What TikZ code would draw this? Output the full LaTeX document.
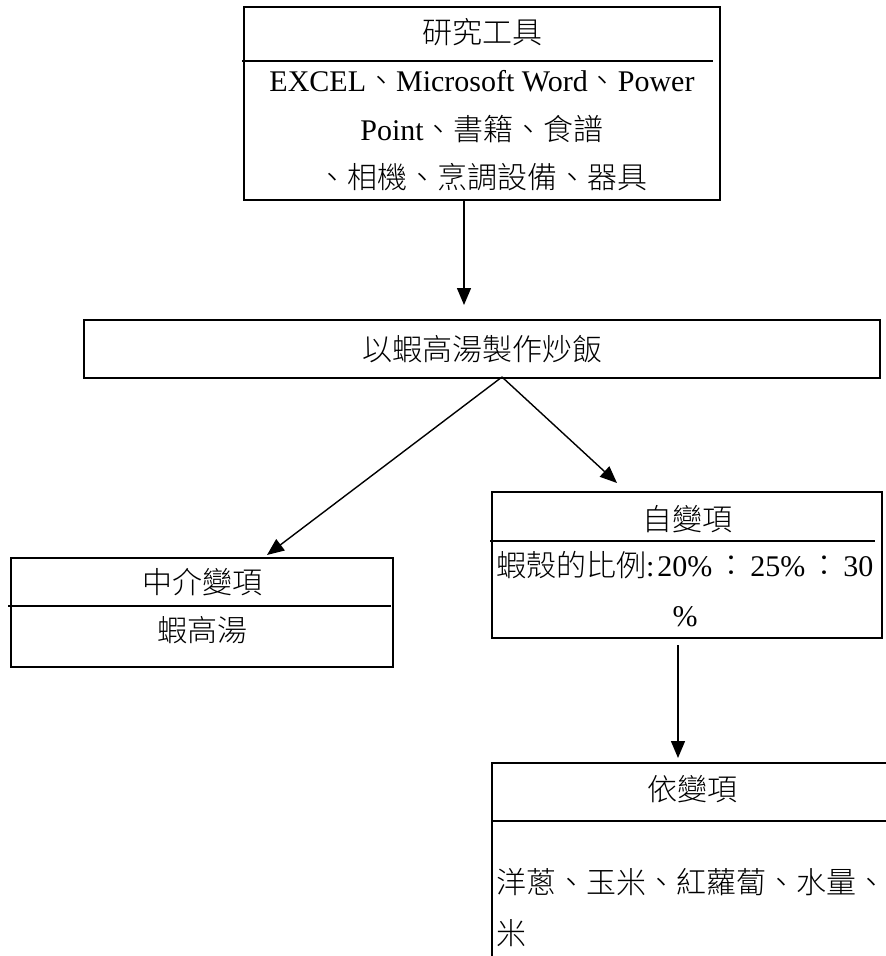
\documentclass[tikz,border=0pt]{standalone}
\usepackage{fontspec}
\setmainfont{Liberation Serif}
\newfontfamily\cjk{Noto Sans CJK TC}[UprightFont={* Light}]
\usetikzlibrary{arrows.meta}
\tikzset{
  x=1pt, y=-1pt,
  boxnode/.style={draw=black, line width=2pt, rectangle, inner sep=0pt, outer sep=0pt, fill=none},
  divider/.style={draw=black, line width=1.5pt},
  arr/.style={draw=black, line width=1.4pt, -{Triangle[length=17pt,width=14pt]}},
  txt/.style={inner sep=0pt, outer sep=0pt, font=\fontsize{30}{36}\selectfont, anchor=base},
  txtl/.style={txt, anchor=base west},
}
\begin{document}
\begin{tikzpicture}
\useasboundingbox (0,0) rectangle (886,956);
\fill[white] (0,0) rectangle (886,956);
\clip (0,0) rectangle (886,956);

% boxes
\node[boxnode, minimum width=476pt, minimum height=193pt] (topbox) at (482,103.5) {};
\node[boxnode, minimum width=796pt, minimum height=58pt] (midbox) at (482,349) {};
\node[boxnode, minimum width=382pt, minimum height=109pt] (leftbox) at (202,612.5) {};
\node[boxnode, minimum width=390pt, minimum height=146pt] (rightbox) at (687,565) {};
\node[boxnode, minimum width=420pt, minimum height=240pt] (botbox) at (702,883) {};

% dividers
\draw[divider] (242,61) -- (713,61);
\draw[divider] (8,606) -- (391,606);
\draw[divider] (490,541) -- (875,541);
\draw[divider] (492,821) -- (886,821);

% texts
\node[txt] (t1) at (482,43) {\cjk 研究工具};
\node[txt] (t2) at (482,91) {EXCEL{\cjk 、}Microsoft Word{\cjk 、}Power};
\node[txt] (t3) at (482,140) {Point{\cjk 、書籍、食譜}};
\node[txt] (t4) at (482,188) {\cjk 、相機、烹調設備、器具};

\node[txt] (m1) at (482,360) {\cjk 以蝦高湯製作炒飯};

\node[txt] (l1) at (202,593) {\cjk 中介變項};
\node[txt] (l2) at (202,641) {\cjk 蝦高湯};

\node[txt] (r1) at (687,530) {\cjk 自變項};
\node[txtl] (r2) at (496,576) {{\cjk 蝦殼的比例}:\hspace{3pt}20\%\hspace{4pt}{\cjk ：}\hspace{4pt}25\%\hspace{4pt}{\cjk ：}\hspace{4pt}30};
\node[txt] (r3) at (685,626) {\%};

\node[txt] (b1) at (692,800) {\cjk 依變項};
\node[txtl] (b2) at (496,893) {\cjk 洋蔥、玉米、紅蘿蔔、水量、};
\node[txtl] (b3) at (496,944) {\cjk 米};

% connector end points
\coordinate (c1s) at (464,200);
\coordinate (c1e) at (464,305);
\coordinate (apex) at (502,377);
\coordinate (lend) at (267,555);
\coordinate (rend) at (617,483);
\coordinate (c4s) at (678,645);
\coordinate (c4e) at (678,758);

\draw[arr] (c1s) -- (c1e);
\draw[arr] (apex) -- (lend);
\draw[arr] (apex) -- (rend);
\draw[arr] (c4s) -- (c4e);
\end{tikzpicture}
\end{document}
